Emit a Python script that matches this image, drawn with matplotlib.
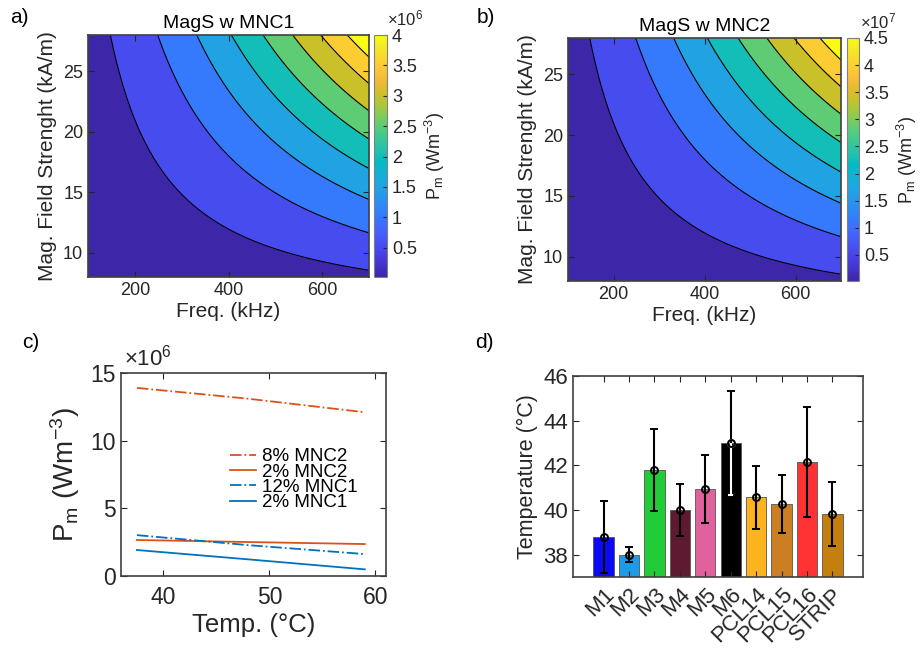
import numpy as np
import matplotlib
matplotlib.use('Agg')
import matplotlib.pyplot as plt
from matplotlib.colors import LinearSegmentedColormap, Normalize
from matplotlib.cm import ScalarMappable
from matplotlib.ticker import FuncFormatter

plt.rcParams['font.family'] = ['Liberation Sans', 'DejaVu Sans']
plt.rcParams['mathtext.fontset'] = 'custom'
plt.rcParams['mathtext.rm'] = 'Liberation Sans'
plt.rcParams['mathtext.default'] = 'regular'

# a), b) heating maps: Pm = Pmax * (f/fmax)^a * ((H-H0)/(Hmax-H0))^m
freq_lim = [100, 700]        # kHz
field_lim = [8, 28]          # kA/m
pmax_mnc1 = 4.0e6
pmax_mnc2 = 4.5e7
freq_exp = 1.5
field_exp = 1.25
field_offset = 5.0
first_level = 0.097          # contour levels as fraction of Pmax
level_step = 0.115
n_lines = 8
cbar_ticks_mnc1 = [0.5, 1, 1.5, 2, 2.5, 3, 3.5, 4]
cbar_ticks_mnc2 = [0.5, 1, 1.5, 2, 2.5, 3, 3.5, 4, 4.5]

# c) Pm vs temperature (x10^6 Wm^-3)
temp = [37.5, 48, 59]
pm_mnc2_8 = [13.9, 13.1, 12.1]
pm_mnc2_2 = [2.66, 2.51, 2.36]
pm_mnc1_12 = [3.02, 2.28, 1.62]
pm_mnc1_2 = [1.92, 1.23, 0.49]

# d) temperature per sample
samples = ['M1', 'M2', 'M3', 'M4', 'M5', 'M6', 'PCL14', 'PCL15', 'PCL16', 'STRIP']
temp_mean = [38.78, 38.0, 41.79, 40.01, 40.93, 43.0, 40.57, 40.27, 42.16, 39.84]
temp_err = [1.61, 0.35, 1.83, 1.16, 1.52, 2.31, 1.40, 1.29, 2.47, 1.43]
bar_colors = ['#0a0af5', '#1e9be6', '#22cc38', '#5e1a30', '#e0619b',
              '#000000', '#fdb31e', '#cc7f22', '#ff3333', '#c47f0c']

# MATLAB parula (every 3rd entry of the 64 colour table)
parula_rgb = [
    (0.2422, 0.1504, 0.6603), (0.2647, 0.1978, 0.7952), (0.2783, 0.2559, 0.8991),
    (0.2810, 0.3228, 0.9579), (0.2699, 0.3892, 0.9906), (0.2206, 0.4603, 0.9973),
    (0.1786, 0.5289, 0.9682), (0.1540, 0.5902, 0.9218), (0.1248, 0.6459, 0.8883),
    (0.0689, 0.6948, 0.8394), (0.0067, 0.7312, 0.7660), (0.1408, 0.7584, 0.6842),
    (0.2161, 0.7843, 0.5923), (0.3406, 0.8008, 0.4789), (0.5044, 0.7993, 0.3480),
    (0.6720, 0.7793, 0.2227), (0.8203, 0.7498, 0.1535), (0.9393, 0.7288, 0.2100),
    (0.9970, 0.7659, 0.2199), (0.9786, 0.8386, 0.1766), (0.9597, 0.9135, 0.1423),
    (0.9769, 0.9839, 0.0805)]
parula = LinearSegmentedColormap.from_list('parula', parula_rgb, N=256)

dark = '#262626'
orange = '#D95319'
blue = '#0072BD'

fig = plt.figure(figsize=(9.21, 6.5), dpi=100)
W, Hh = 921.0, 650.0


def box(l, t, r, b):
    return [l / W, 1 - b / Hh, (r - l) / W, (b - t) / Hh]


def style(ax, size):
    ax.tick_params(direction='in', top=True, right=True, labelsize=size,
                   colors=dark, length=4)
    for s in ax.spines.values():
        s.set_color('#404040')
        s.set_linewidth(1.2)


def heat_map(ax, cax, pmax, ticks, scale, exp_txt, title):
    f = np.linspace(freq_lim[0], freq_lim[1], 400)
    h = np.linspace(field_lim[0], field_lim[1], 400)
    F, H = np.meshgrid(f, h)
    P = (pmax * (F / freq_lim[1]) ** freq_exp
         * ((H - field_offset) / (field_lim[1] - field_offset)) ** field_exp)
    lines = pmax * (first_level + level_step * np.arange(n_lines))
    levels = np.concatenate([[P.min()], lines, [P.max()]])
    band_colors = parula(np.linspace(0, 1, n_lines + 1))
    ax.contourf(F, H, P, levels=levels, colors=band_colors)
    ax.contour(F, H, P, levels=lines, colors='k', linewidths=0.8)
    ax.set_xticks([200, 400, 600])
    ax.set_yticks([10, 15, 20, 25])
    style(ax, 13)
    ax.set_xlabel('Freq. (kHz)', fontsize=15, color=dark, labelpad=2)
    ax.set_ylabel('Mag. Field Strenght (kA/m)', fontsize=15, color=dark, labelpad=4)
    ax.set_title(title, fontsize=14, pad=5)

    sm = ScalarMappable(norm=Normalize(P.min(), P.max()), cmap=parula)
    cb = fig.colorbar(sm, cax=cax)
    cb.set_ticks([t * scale for t in ticks])
    cax.yaxis.set_major_formatter(FuncFormatter(lambda v, p: f'{v / scale:g}'))
    cax.tick_params(direction='in', labelsize=13, colors=dark, length=3)
    cb.outline.set_edgecolor('#808080')
    cb.set_label('P$_m$ (Wm$^{-3}$)', fontsize=13, color=dark, labelpad=4)
    pos = cax.get_position()
    fig.text(pos.x0 + 13 / W, pos.y1 + 7 / Hh, exp_txt, fontsize=12,
             color=dark, ha='left', va='bottom')


ax_a = fig.add_axes(box(88, 35, 369, 277))
cax_a = fig.add_axes(box(374, 35, 387, 277))
heat_map(ax_a, cax_a, pmax_mnc1, cbar_ticks_mnc1, 1e6, '×10$^6$', 'MagS w MNC1')

ax_b = fig.add_axes(box(568, 38, 841, 281))
cax_b = fig.add_axes(box(847, 38, 859, 281))
heat_map(ax_b, cax_b, pmax_mnc2, cbar_ticks_mnc2, 1e7, '×10$^7$', 'MagS w MNC2')

# c)
ax_c = fig.add_axes(box(121, 373, 386, 576))
ax_c.plot(temp, np.array(pm_mnc2_8) * 1e6, '-.', color=orange, lw=1.3, label='8% MNC2')
ax_c.plot(temp, np.array(pm_mnc2_2) * 1e6, '-', color=orange, lw=1.3, label='2% MNC2')
ax_c.plot(temp, np.array(pm_mnc1_12) * 1e6, '-.', color=blue, lw=1.3, label='12% MNC1')
ax_c.plot(temp, np.array(pm_mnc1_2) * 1e6, '-', color=blue, lw=1.3, label='2% MNC1')
ax_c.set_xlim(36, 61)
ax_c.set_ylim(0, 15e6)
ax_c.set_xticks([40, 50, 60])
ax_c.set_yticks([0, 5e6, 10e6, 15e6])
ax_c.yaxis.set_major_formatter(FuncFormatter(lambda v, p: f'{v / 1e6:g}'))
style(ax_c, 16.5)
ax_c.tick_params(axis='x', pad=7)
ax_c.set_xlabel('Temp. (°C)', fontsize=18.5, color=dark, labelpad=3)
ax_c.set_ylabel('P$_m$ (Wm$^{-3}$)', fontsize=20, color=dark, labelpad=6)
ax_c.text(0.01, 1.01, '×10$^6$', transform=ax_c.transAxes, fontsize=16,
          color=dark, ha='left', va='bottom')
ax_c.legend(loc='upper left', bbox_to_anchor=(0.375, 0.675), frameon=False,
            fontsize=13.5, handlelength=1.4, handletextpad=0.3,
            labelspacing=-0.1, borderpad=0)

# d)
x = np.arange(1, len(samples) + 1)
ax_d = fig.add_axes(box(573, 376, 863, 577))
ax_d.bar(x, temp_mean, width=0.8, color=bar_colors, edgecolor='#555555', linewidth=0.6)
ax_d.errorbar(x, temp_mean, yerr=temp_err, fmt='o', color='k', ms=5, mfc='none',
              mew=1.4, elinewidth=1.5, capsize=3, capthick=1.5)
# the part of the M6 error bar that lies on the black bar shows up light
i6 = samples.index('M6')
ax_d.vlines(x[i6], temp_mean[i6] - temp_err[i6], temp_mean[i6], color='w', lw=1.5)
ax_d.hlines(temp_mean[i6] - temp_err[i6], x[i6] - 0.1, x[i6] + 0.1, color='w', lw=1.5)
ax_d.plot(x[i6], temp_mean[i6], 'o', ms=5, mfc='none', mec='#cccccc', mew=1.4)
ax_d.set_xlim(-0.2, 11.2)
ax_d.set_ylim(37, 46)
ax_d.set_yticks([38, 40, 42, 44, 46])
ax_d.set_xticks(x)
ax_d.set_xticklabels(samples, rotation=45, ha='right', va='top',
                     rotation_mode='anchor')
style(ax_d, 16)
ax_d.tick_params(axis='x', labelsize=16, pad=5)
ax_d.set_ylabel('Temperature (°C)', fontsize=15.5, color=dark, labelpad=4)

# panel letters
fig.text(10 / W, 1 - 8 / Hh, 'a)', fontsize=15, va='top')
fig.text(477 / W, 1 - 8 / Hh, 'b)', fontsize=15, va='top')
fig.text(22 / W, 1 - 333 / Hh, 'c)', fontsize=15, va='top')
fig.text(475 / W, 1 - 333 / Hh, 'd)', fontsize=15, va='top')

fig.savefig('out.png', dpi=100)
